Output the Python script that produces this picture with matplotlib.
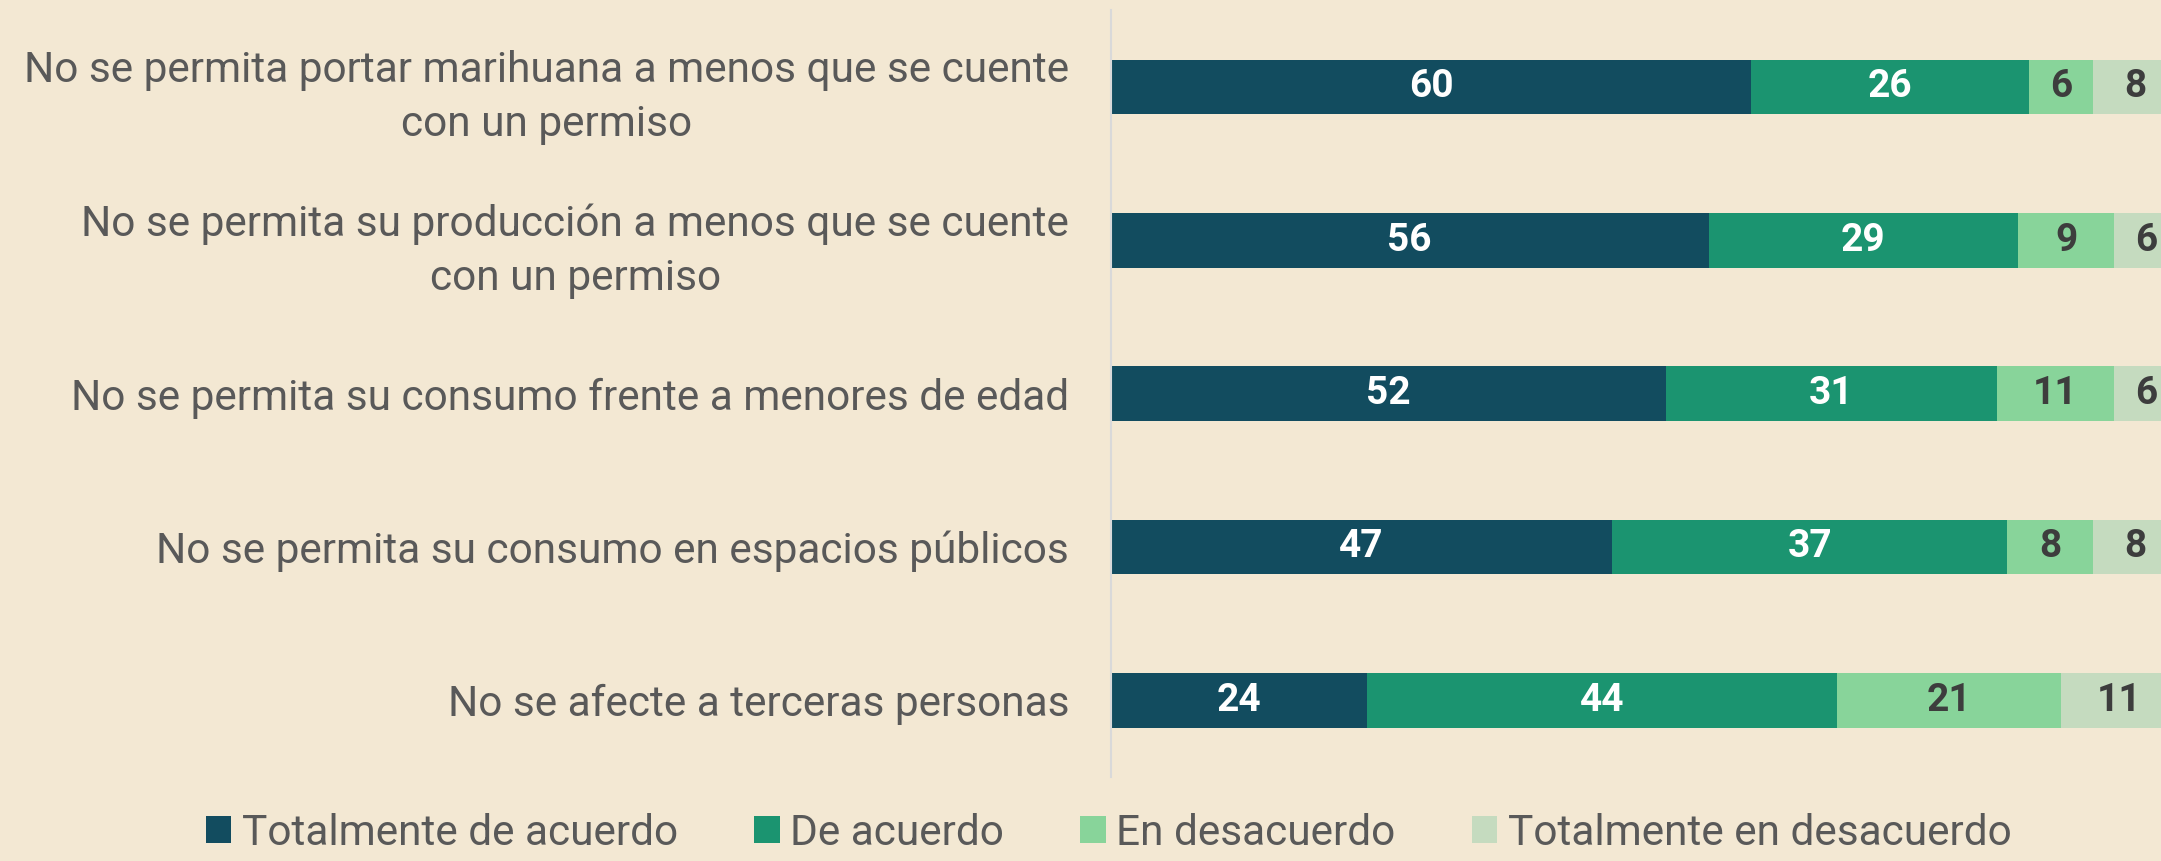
import numpy
import matplotlib
matplotlib.use('Agg')
import matplotlib.pyplot as plt


######################################################################
# Data
######################################################################

categories = [
    'No se permita portar marihuana a menos que se cuente\ncon un permiso',
    'No se permita su producción a menos que se cuente\ncon un permiso',
    'No se permita su consumo frente a menores de edad',
    'No se permita su consumo en espacios públicos',
    'No se afecte a terceras personas'
]

series_names = [
    'Totalmente de acuerdo',
    'De acuerdo',
    'En desacuerdo',
    'Totalmente en desacuerdo'
]

totalmente_de_acuerdo = [60, 56, 52, 47, 24]
de_acuerdo = [26, 29, 31, 37, 44]
en_desacuerdo = [6, 9, 11, 8, 21]
totalmente_en_desacuerdo = [8, 6, 6, 8, 11]

series_values = [
    totalmente_de_acuerdo,
    de_acuerdo,
    en_desacuerdo,
    totalmente_en_desacuerdo
]

colors = ['#124c5f', '#1b9470', '#88d49a', '#c5dbbf']
label_colors = ['white', 'white', '#3d3d3d', '#3d3d3d']

background = '#f3e8d3'
text_gray = '#595959'


######################################################################
# Plot
######################################################################

plt.rcParams['font.family'] = ['Roboto', 'DejaVu Sans']

fig = plt.figure(figsize=(21.61, 8.61), dpi=100)
fig.patch.set_facecolor(background)

ax = fig.add_axes([0.514, 0.0976, 0.494, 0.8904])
ax.set_facecolor(background)

y = numpy.arange(len(categories))
left = numpy.zeros(len(categories))

for iseries, name in enumerate(series_names):

    values = numpy.asarray(series_values[iseries], dtype=float)

    bars = ax.barh(
        y,
        values,
        left=left,
        height=0.355,
        color=colors[iseries],
        label=name
    )

    ax.bar_label(
        bars,
        labels=[f'{v:.0f}' for v in values],
        label_type='center',
        color=label_colors[iseries],
        fontsize=28,
        fontweight='bold'
    )

    left += values

ax.set_xlim(0, 100)
ax.set_ylim(len(categories) - 0.5, -0.5)

ax.set_yticks(y)
ax.set_yticklabels(
    categories,
    fontsize=30.5,
    color=text_gray,
    multialignment='center',
    linespacing=1.4
)
ax.tick_params(axis='y', length=0, pad=30)
ax.set_xticks([])

for side in ['top', 'right', 'bottom']:
    ax.spines[side].set_visible(False)
ax.spines['left'].set_color('#d9d9d9')
ax.spines['left'].set_linewidth(1.5)

fig.legend(
    loc='lower center',
    bbox_to_anchor=(0.513, -0.036),
    ncol=4,
    frameon=False,
    fontsize=30.5,
    labelcolor=text_gray,
    handlelength=0.6,
    handleheight=0.6,
    handletextpad=0.25,
    columnspacing=1.8
)

plt.savefig('out.png', dpi=100, facecolor=background)
plt.close()
